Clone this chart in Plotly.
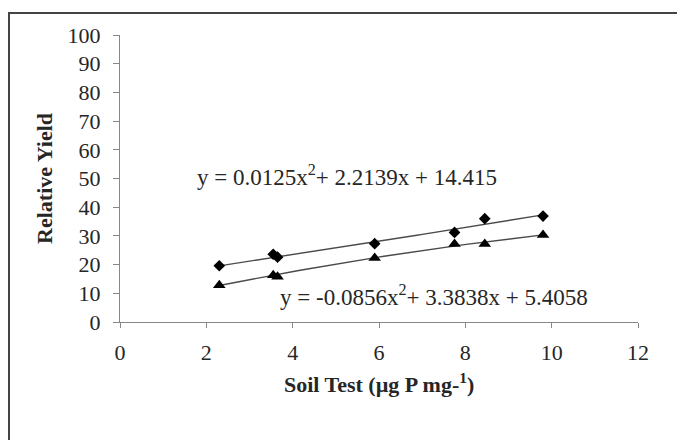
import numpy as np
import plotly.graph_objects as go

# Data
soil_test_a = [2.3, 3.55, 3.65, 5.9, 7.75, 8.45, 9.8]
yield_a = [19.6, 23.6, 22.6, 27.3, 31.2, 36.0, 36.9]
soil_test_b = [2.3, 3.55, 3.65, 5.9, 7.75, 8.45, 9.8]
yield_b = [12.8, 16.3, 15.8, 22.3, 27.2, 27.2, 30.3]

# Trendline coefficients as printed on the chart (a2, a1, a0)
coef_a = [0.0125, 2.2139, 14.415]
coef_b = [-0.0856, 3.3838, 5.4058]

x_ticks = [0, 2, 4, 6, 8, 10, 12]
y_ticks = [0, 10, 20, 30, 40, 50, 60, 70, 80, 90, 100]

eq_a = "y = 0.0125x<sup>2</sup>+ 2.2139x + 14.415"
eq_b = "y = -0.0856x<sup>2</sup>+ 3.3838x + 5.4058"

FONT = "Liberation Serif"
TXT = "#262626"

fig = go.Figure()

for xs, coef in ((soil_test_a, coef_a), (soil_test_b, coef_b)):
    xl = np.linspace(min(xs), max(xs), 60)
    yl = np.polyval(coef, xl)
    fig.add_trace(go.Scatter(x=xl, y=yl, mode="lines",
                             line=dict(color="#4a4a4a", width=1.4),
                             hoverinfo="skip", showlegend=False))

fig.add_trace(go.Scatter(x=soil_test_a, y=yield_a, mode="markers",
                         marker=dict(symbol="diamond", size=9, color="black"),
                         showlegend=False))
fig.add_trace(go.Scatter(x=soil_test_b, y=yield_b, mode="markers",
                         marker=dict(symbol="triangle-up", size=11, color="black"),
                         showlegend=False))

# The page body has an 8px margin, so margins are compensated for it
fig.update_layout(
    width=685, height=440,
    margin=dict(l=112, r=55, t=27, b=126),
    paper_bgcolor="white", plot_bgcolor="white",
    font=dict(family=FONT, size=22, color=TXT),
    showlegend=False,
)

fig.update_xaxes(range=[0, 12], tickvals=x_ticks, ticktext=[str(v) for v in x_ticks],
                 showgrid=False, zeroline=False, showline=True,
                 linecolor="#888888", linewidth=1,
                 ticks="outside", ticklen=5, tickcolor="#888888",
                 ticklabelstandoff=6,
                 tickfont=dict(family=FONT, size=22, color=TXT))
fig.update_yaxes(range=[0, 100], tickvals=y_ticks, ticktext=[str(v) for v in y_ticks],
                 showgrid=False, zeroline=False, showline=True,
                 linecolor="#888888", linewidth=1,
                 ticks="outside", ticklen=6, tickcolor="#888888",
                 ticklabelstandoff=8,
                 tickfont=dict(family=FONT, size=22, color=TXT))

# Axis titles
fig.add_annotation(text="<b>Relative Yield</b>", xref="paper", yref="paper",
                   x=-0.1448, y=0.502, showarrow=False, textangle=-90,
                   font=dict(family=FONT, size=22, color=TXT),
                   xanchor="center", yanchor="middle")
fig.add_annotation(text="<b>Soil Test (µg P mg-<sup>1</sup>)</b>", xref="paper", yref="paper",
                   x=0.5, y=-0.2125, showarrow=False,
                   font=dict(family=FONT, size=22, color=TXT),
                   xanchor="center", yanchor="middle")

# Equations
fig.add_annotation(text=eq_a, x=1.74, y=51.2, xref="x", yref="y", showarrow=False,
                   xanchor="left", yanchor="middle",
                   font=dict(family=FONT, size=23, color=TXT))
fig.add_annotation(text=eq_b, x=3.66, y=9.4, xref="x", yref="y", showarrow=False,
                   xanchor="left", yanchor="middle",
                   font=dict(family=FONT, size=23, color=TXT))

# Outer frame (cut off at right and bottom in the reference)
fig.add_shape(type="rect", xref="paper", yref="paper",
              x0=-0.2143, y0=-0.5, x1=1.11, y1=1.0767,
              line=dict(color="#444444", width=2), fillcolor="rgba(0,0,0,0)",
              layer="below")

fig.write_html("out.html")
